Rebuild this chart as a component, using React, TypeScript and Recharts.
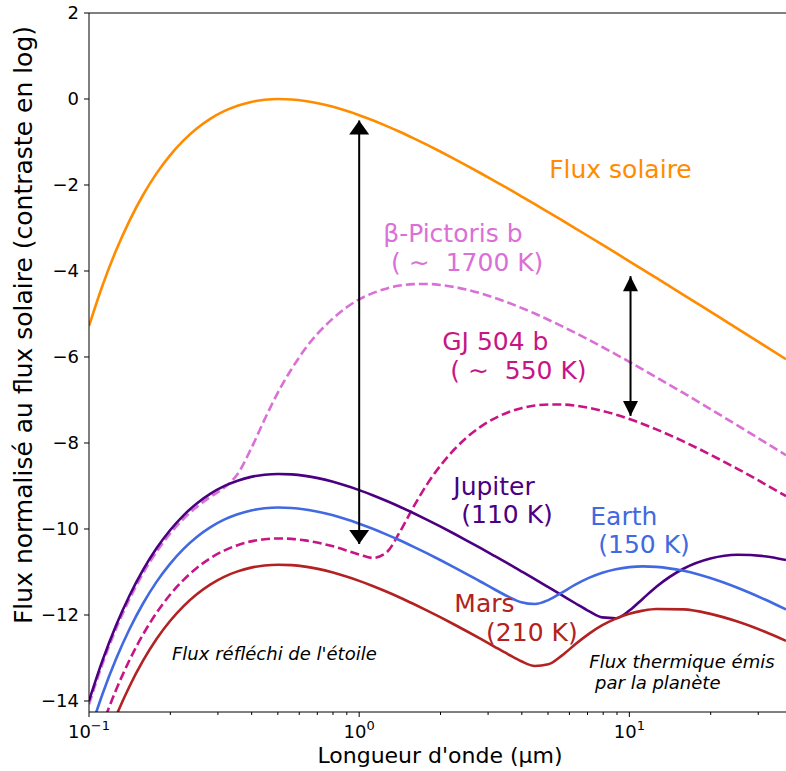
import { LineChart, Line, XAxis, YAxis, ReferenceLine, ReferenceDot } from "recharts"

const FONT = "'DejaVu Sans', sans-serif"

// wavelength in µm (log spaced, denser around the dips)
const wavelength = [
  0.1, 0.1122, 0.1259, 0.1413, 0.1585, 0.1778, 0.1995, 0.2239, 0.2512, 0.2818,
  0.3162, 0.3548, 0.3981, 0.4467, 0.5012, 0.5623, 0.631, 0.7943, 1, 1.122,
  1.259, 1.413, 1.585, 1.778, 1.995, 2.239, 2.512, 2.818, 3.162, 3.548,
  3.981, 4.467, 5.012, 5.623, 6.31, 7.079, 7.943, 8.913, 10, 11.22,
  12.59, 15.85, 19.95, 25.12, 31.62, 38,
]

const solar = [
  -5.278, -4.336, -3.524, -2.827, -2.233, -1.73, -1.31, -0.962, -0.68, -0.456,
  -0.282, -0.156, -0.068, -0.018, 0, -0.01, -0.045, -0.177, -0.376, -0.494,
  -0.624, -0.762, -0.909, -1.062, -1.221, -1.385, -1.554, -1.727, -1.903, -2.081,
  -2.263, -2.446, -2.632, -2.819, -3.008, -3.198, -3.389, -3.581, -3.774, -3.968,
  -4.162, -4.553, -4.946, -5.34, -5.735, -6.052,
]

const betaPic = [
  -14.078, -13.136, -12.324, -11.627, -11.033, -10.53, -10.11, -9.762, -9.48, -9.252,
  -9.043, -8.721, -8.132, -7.451, -6.816, -6.279, -5.81, -5.12, -4.66, -4.515,
  -4.41, -4.339, -4.305, -4.302, -4.324, -4.37, -4.437, -4.52, -4.62, -4.732,
  -4.857, -4.99, -5.133, -5.283, -5.439, -5.601, -5.768, -5.938, -6.112, -6.29,
  -6.47, -6.837, -7.211, -7.591, -7.975, -8.285,
]

const gj504 = [
  -15.498, -14.556, -13.744, -13.047, -12.453, -11.95, -11.53, -11.182, -10.9, -10.676,
  -10.502, -10.376, -10.288, -10.238, -10.22, -10.23, -10.265, -10.397, -10.593, -10.673,
  -10.552, -10.074, -9.497, -8.974, -8.532, -8.163, -7.861, -7.62, -7.431, -7.29,
  -7.191, -7.13, -7.103, -7.104, -7.132, -7.182, -7.252, -7.339, -7.441, -7.557,
  -7.683, -7.963, -8.271, -8.601, -8.948, -9.234,
]

const jupiter = [
  -13.998, -13.056, -12.244, -11.547, -10.953, -10.45, -10.03, -9.682, -9.4, -9.176,
  -9.002, -8.876, -8.788, -8.738, -8.72, -8.73, -8.765, -8.897, -9.096, -9.214,
  -9.344, -9.482, -9.629, -9.782, -9.941, -10.105, -10.274, -10.447, -10.623, -10.801,
  -10.983, -11.166, -11.352, -11.539, -11.727, -11.909, -12.056, -12.075, -11.897, -11.62,
  -11.343, -10.925, -10.688, -10.6, -10.633, -10.723,
]

const earth = [
  -14.778, -13.836, -13.024, -12.327, -11.733, -11.23, -10.81, -10.462, -10.18, -9.956,
  -9.782, -9.656, -9.568, -9.518, -9.5, -9.51, -9.545, -9.677, -9.876, -9.994,
  -10.124, -10.262, -10.409, -10.562, -10.721, -10.885, -11.054, -11.227, -11.401, -11.568,
  -11.703, -11.745, -11.653, -11.478, -11.295, -11.138, -11.017, -10.934, -10.886, -10.869,
  -10.88, -10.972, -11.14, -11.366, -11.634, -11.872,
]

const mars = [
  -16.108, -15.166, -14.354, -13.657, -13.063, -12.56, -12.14, -11.792, -11.51, -11.286,
  -11.112, -10.986, -10.898, -10.848, -10.83, -10.84, -10.875, -11.007, -11.206, -11.324,
  -11.454, -11.592, -11.739, -11.892, -12.051, -12.215, -12.384, -12.557, -12.733, -12.908,
  -13.075, -13.185, -13.147, -12.944, -12.681, -12.44, -12.238, -12.084, -11.971, -11.898,
  -11.859, -11.869, -11.974, -12.152, -12.385, -12.602,
]

const data = wavelength.map((w, i) => ({
  w,
  solar: solar[i],
  betaPic: betaPic[i],
  gj504: gj504[i],
  jupiter: jupiter[i],
  earth: earth[i],
  mars: mars[i],
}))

const xTicks = [0.1, 0.2, 0.3, 0.4, 0.5, 0.6, 0.7, 0.8, 0.9, 1, 2, 3, 4, 5, 6, 7, 8, 9, 10, 20, 30]
const xExponents: Record<string, string> = { "0.1": "−1", "1": "0", "10": "1" }
const yTicks = [-14, -12, -10, -8, -6, -4, -2, 0, 2]

// double arrows (x in µm, tips in log contrast)
const arrows = [
  { x: 1, top: -0.5, bottom: -10.35, w: 20, h: 14 },
  { x: 10.1, top: -4.12, bottom: -7.37, w: 15, h: 15 },
]

const notes = [
  { x: 5.05, y: -1.84, lines: ["Flux solaire"], color: "#ff8c00", size: 25, lh: 29, italic: false },
  { x: 1.227, y: -3.33, lines: ["β-Pictoris b", " ( ∼  1700 K)"], color: "#da70d6", size: 25, lh: 29, italic: false },
  { x: 2.03, y: -5.84, lines: ["GJ 504 b", " ( ∼  550 K)"], color: "#c71585", size: 25, lh: 29, italic: false },
  { x: 2.23, y: -9.21, lines: ["Jupiter", " (110 K)"], color: "#4b0082", size: 25, lh: 28, italic: false },
  { x: 7.17, y: -9.91, lines: ["Earth", " (150 K)"], color: "#4169e1", size: 25, lh: 28, italic: false },
  { x: 2.25, y: -11.93, lines: ["Mars", "    (210 K)"], color: "#b22222", size: 25, lh: 29, italic: false },
  { x: 0.2029, y: -13.05, lines: ["Flux réfléchi de l'étoile"], color: "#000", size: 18, lh: 21, italic: true },
  { x: 7.11, y: -13.23, lines: ["Flux thermique émis", " par la planète"], color: "#000", size: 18, lh: 21, italic: true },
]

function XTick(props: any) {
  const { x, y, payload } = props
  const exp = xExponents[String(payload.value)]
  const major = exp !== undefined
  return (
    <g>
      <line x1={x} x2={x} y1={y} y2={y + (major ? 5 : 3)} stroke="#000" strokeWidth={1} />
      {major && (
        <text x={x} y={y + 26} textAnchor="middle" fontSize={18} fontFamily={FONT} fill="#000">
          10
          <tspan dy={-8} fontSize={13}>
            {exp}
          </tspan>
        </text>
      )}
    </g>
  )
}

const head = (dir: number, w: number, h: number) => (p: any) => (
  <polygon
    points={`${p.cx},${p.cy} ${p.cx - w / 2},${p.cy + dir * h} ${p.cx + w / 2},${p.cy + dir * h}`}
    fill="#000"
  />
)

const noteShape = (n: (typeof notes)[number]) => (p: any) => (
  <text
    x={p.cx}
    y={p.cy}
    fill={n.color}
    fontSize={n.size}
    fontStyle={n.italic ? "italic" : "normal"}
    fontFamily={FONT}
    xmlSpace="preserve"
    style={{ whiteSpace: "pre" }}
  >
    {n.lines.map((l, i) => (
      <tspan key={i} x={p.cx} dy={i === 0 ? 0 : n.lh}>
        {l}
      </tspan>
    ))}
  </text>
)

export default function App() {
  return (
    <div style={{ position: "absolute", left: 0, top: 0, background: "#fff" }}>
      <LineChart width={786} height={771} data={data} margin={{ top: 13, right: 0, left: 0, bottom: 0 }}>
        <XAxis
          dataKey="w"
          type="number"
          scale="log"
          domain={[0.1, 38]}
          allowDataOverflow
          ticks={xTicks}
          interval={0}
          tickSize={0}
          tickMargin={0}
          tickLine={false}
          tick={<XTick />}
          axisLine={{ stroke: "#000", strokeWidth: 1 }}
          height={59}
          label={{
            content: () => (
              <text x={440} y={763} textAnchor="middle" fontSize={22} fontFamily={FONT} fill="#000">
                Longueur d'onde (µm)
              </text>
            ),
          }}
        />
        <YAxis
          type="number"
          domain={[-14.256, 2]}
          allowDataOverflow
          ticks={yTicks}
          interval={0}
          width={89}
          tickSize={5}
          tickMargin={5}
          tickFormatter={(v: number) => String(v).replace("-", "−")}
          tick={{ fontSize: 18, fill: "#000", fontFamily: FONT }}
          tickLine={{ stroke: "#000" }}
          axisLine={{ stroke: "#000", strokeWidth: 1 }}
          label={{
            content: () => (
              <text
                x={32}
                y={325}
                transform="rotate(-90 32 325)"
                textAnchor="middle"
                fontSize={25}
                fontFamily={FONT}
                fill="#000"
              >
                Flux normalisé au flux solaire (contraste en log)
              </text>
            ),
          }}
        />
        <ReferenceLine y={2} stroke="#000" strokeWidth={1} />
        <Line type="monotone" dataKey="solar" stroke="#ff8c00" strokeWidth={2.6} dot={false} isAnimationActive={false} />
        <Line type="monotone" dataKey="betaPic" stroke="#da70d6" strokeWidth={2.6} strokeDasharray="9 4" dot={false} isAnimationActive={false} />
        <Line type="monotone" dataKey="gj504" stroke="#c71585" strokeWidth={2.6} strokeDasharray="9 4" dot={false} isAnimationActive={false} />
        <Line type="monotone" dataKey="jupiter" stroke="#4b0082" strokeWidth={2.6} dot={false} isAnimationActive={false} />
        <Line type="monotone" dataKey="earth" stroke="#4169e1" strokeWidth={2.6} dot={false} isAnimationActive={false} />
        <Line type="monotone" dataKey="mars" stroke="#b22222" strokeWidth={2.6} dot={false} isAnimationActive={false} />
        {arrows.map((a, i) => (
          <ReferenceLine
            key={`shaft${i}`}
            segment={[
              { x: a.x, y: a.top },
              { x: a.x, y: a.bottom },
            ]}
            stroke="#000"
            strokeWidth={2}
          />
        ))}
        {arrows.map((a, i) => (
          <ReferenceDot key={`up${i}`} x={a.x} y={a.top} r={1} shape={head(1, a.w, a.h)} />
        ))}
        {arrows.map((a, i) => (
          <ReferenceDot key={`dn${i}`} x={a.x} y={a.bottom} r={1} shape={head(-1, a.w, a.h)} />
        ))}
        {notes.map((n, i) => (
          <ReferenceDot key={`note${i}`} x={n.x} y={n.y} r={1} shape={noteShape(n)} />
        ))}
      </LineChart>
    </div>
  )
}
